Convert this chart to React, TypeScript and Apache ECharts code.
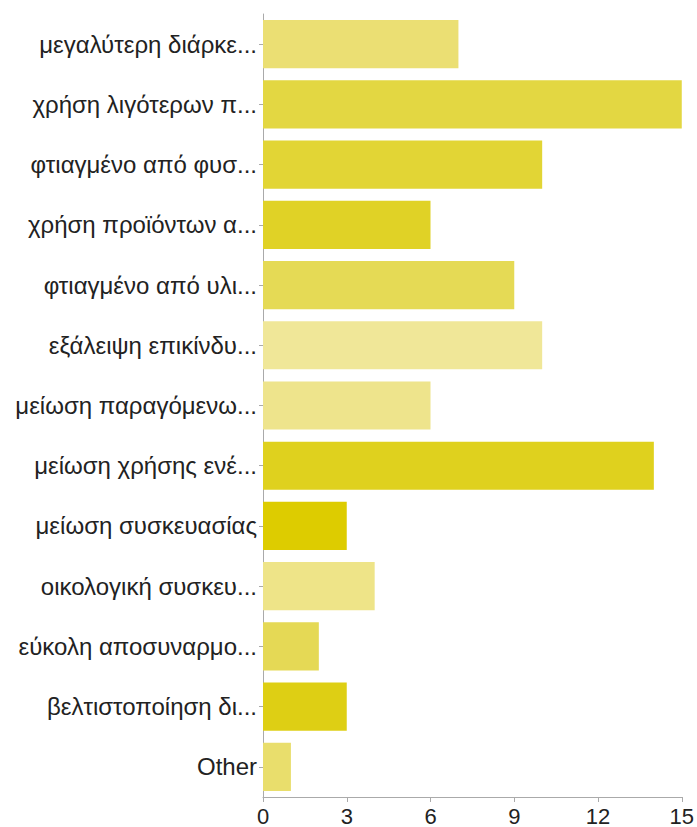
import React, { useEffect, useRef } from "react";
import * as echarts from "echarts";

const categories = [
  "μεγαλύτερη διάρκε...",
  "χρήση λιγότερων π...",
  "φτιαγμένο από φυσ...",
  "χρήση προϊόντων α...",
  "φτιαγμένο από υλι...",
  "εξάλειψη επικίνδυ...",
  "μείωση παραγόμενω...",
  "μείωση χρήσης ενέ...",
  "μείωση συσκευασίας",
  "οικολογική συσκευ...",
  "εύκολη αποσυναρμο...",
  "βελτιστοποίηση δι...",
  "Other",
];
const values = [7, 15, 10, 6, 9, 10, 6, 14, 3, 4, 2, 3, 1];
const barColors = [
  "#EBDF73", "#E3D742", "#E2D535", "#E0D226", "#E5DA55", "#F0E798", "#EEE48C",
  "#DFD11E", "#DDCC00", "#EEE488", "#E5D955", "#DECF14", "#E9DE6C",
];
const xTicks = [0, 3, 6, 9, 12, 15];

export default function App() {
  const ref = useRef<HTMLDivElement>(null);
  useEffect(() => {
    const chart = echarts.init(ref.current!, null, { renderer: "svg" });
    chart.setOption({
      animation: false,
      grid: { left: 263, right: 14, top: 14, bottom: 29, containLabel: false },
      xAxis: {
        type: "value",
        min: xTicks[0],
        max: xTicks[xTicks.length - 1],
        interval: 3,
        axisLine: { show: true, lineStyle: { color: "#aaaaaa", width: 1 } },
        axisTick: { show: true, length: 5, lineStyle: { color: "#aaaaaa" } },
        splitLine: { show: false },
        axisLabel: {
          color: "#222",
          fontSize: 22,
          fontFamily: "Liberation Sans, Arial, sans-serif",
          margin: 8,
        },
      },
      yAxis: {
        type: "category",
        data: categories,
        inverse: true,
        axisLine: { show: true, lineStyle: { color: "#aaaaaa", width: 1 } },
        axisTick: { show: true, length: 4, alignWithLabel: true, lineStyle: { color: "#aaaaaa" } },
        axisLabel: {
          color: "#222",
          fontSize: 24,
          fontFamily: "Liberation Sans, Arial, sans-serif",
          margin: 6,
        },
      },
      series: [
        {
          type: "bar",
          barCategoryGap: "20%",
          data: values.map((v, i) => ({ value: v, itemStyle: { color: barColors[i] } })),
        },
      ],
    });
    return () => chart.dispose();
  }, []);
  return <div ref={ref} style={{ width: 697, height: 827, position: "absolute", left: 0, top: 0 }} />;
}
